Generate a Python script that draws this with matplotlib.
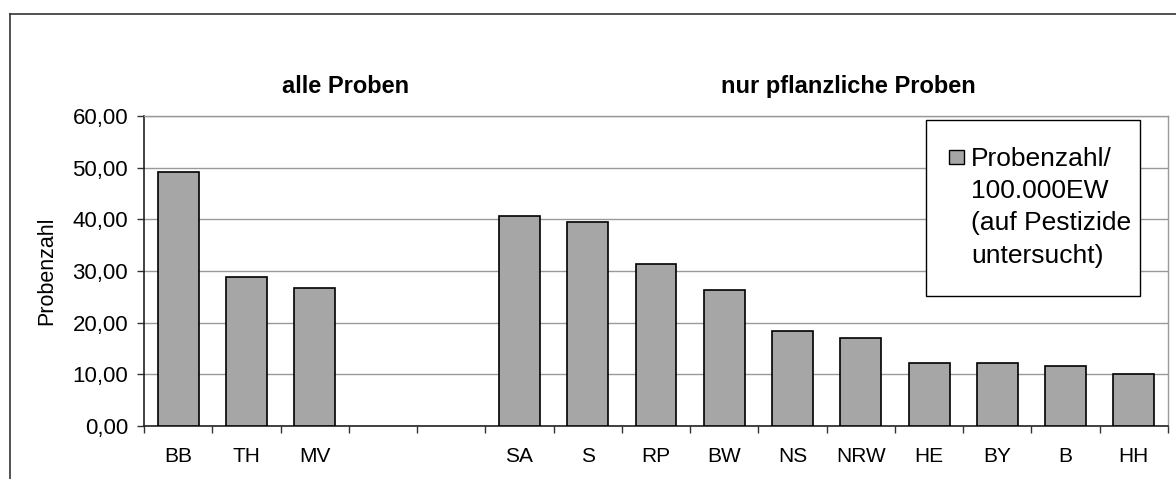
import matplotlib.pyplot as plt
import numpy as np
from matplotlib.patches import Rectangle
from matplotlib.lines import Line2D
from matplotlib.ticker import FuncFormatter, FixedLocator

plt.rcParams['font.family'] = ['Liberation Sans', 'DejaVu Sans']

# Bundeslaender, two empty slots separate the two groups
states = ["BB", "TH", "MV", "", "", "SA", "S", "RP", "BW", "NS", "NRW", "HE", "BY", "B", "HH"]
samples = [49.2, 28.8, 26.8, np.nan, np.nan, 40.6, 39.5, 31.4, 26.4, 18.3, 17.1, 12.1, 12.1, 11.7, 10.1]
group_titles = ["alle Proben", "nur pflanzliche Proben"]
legend_label = "Probenzahl/\n100.000EW\n(auf Pestizide\nuntersucht)"

W, H = 1176, 479
fig = plt.figure(figsize=(W / 100, H / 100), dpi=100)
ax = fig.add_axes([144 / W, 53 / H, 1024 / W, 310 / H])

x = np.arange(len(states))
ax.bar(x, samples, width=0.6, color="#a6a6a6", edgecolor="black", linewidth=1.2, zorder=3)

ax.set_xlim(-0.5, len(states) - 0.5)
ax.set_ylim(0, 60)
ax.set_yticks(np.arange(0, 61, 10))
ax.yaxis.set_major_formatter(FuncFormatter(lambda v, p: f"{v:.2f}".replace(".", ",")))
ax.tick_params(axis="y", labelsize=16, length=5, width=1, pad=6.5, color="#333333")
ax.yaxis.grid(True, color="#999999", linewidth=1, zorder=0)

# category boundary ticks (major), labels at centres (minor)
ax.xaxis.set_major_locator(FixedLocator(np.arange(len(states) + 1) - 0.5))
ax.xaxis.set_minor_locator(FixedLocator(x))
ax.xaxis.set_major_formatter(FuncFormatter(lambda v, p: ""))
ax.set_xticklabels(states, minor=True)
ax.tick_params(axis="x", which="major", length=5, width=1, color="#333333")
ax.tick_params(axis="x", which="minor", length=0, labelsize=15, pad=15)

ax.set_ylabel("Probenzahl", fontsize=15.5, labelpad=11)

for side in ["left", "bottom"]:
    ax.spines[side].set_color("#222222")
    ax.spines[side].set_linewidth(1.2)
for side in ["top", "right"]:
    ax.spines[side].set_color("#999999")
    ax.spines[side].set_linewidth(1)

ax.text(0.197, 1.073, group_titles[0], transform=ax.transAxes, ha="center",
        va="baseline", fontsize=17, fontweight="bold")
ax.text(0.6875, 1.073, group_titles[1], transform=ax.transAxes, ha="center",
        va="baseline", fontsize=17, fontweight="bold")

# legend drawn by hand so the marker sits beside the first line
ax.add_patch(Rectangle((0.7637, 0.419), 0.209, 0.568, transform=ax.transAxes,
                       facecolor="white", edgecolor="black", linewidth=1, zorder=5))
ax.add_patch(Rectangle((0.7864, 0.844), 0.0146, 0.045, transform=ax.transAxes,
                       facecolor="#a6a6a6", edgecolor="black", linewidth=1, zorder=6))
ax.text(0.8074, 0.9, legend_label, transform=ax.transAxes, ha="left", va="top",
        fontsize=19, linespacing=1.43, zorder=6)

# outer chart frame
fig.add_artist(Line2D([10 / W, 10 / W], [0, 1 - 14 / H], color="#333333", linewidth=1.2))
fig.add_artist(Line2D([10 / W, 1], [1 - 14 / H, 1 - 14 / H], color="#333333", linewidth=1.2))

fig.savefig("out.png", dpi=100)
